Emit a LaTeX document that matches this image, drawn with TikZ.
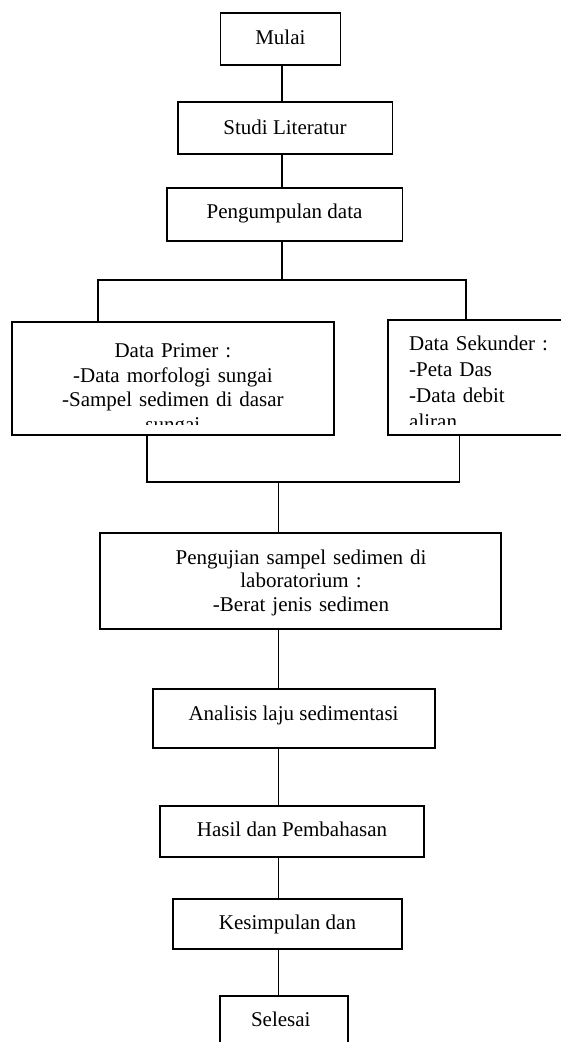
\documentclass[tikz,border=0pt]{standalone}
\usepackage{fontspec}
\setmainfont{Liberation Serif}
\begin{document}
\begin{tikzpicture}[x=1pt,y=-1pt,
  box/.style={draw=black, line width=1.8pt, rectangle, inner sep=0pt},
  txt/.style={inner sep=0pt, anchor=base, font=\fontsize{21}{25}\selectfont},
  link/.style={draw=black, line width=1.7pt},
]
\useasboundingbox (0,0) rectangle (560,1042);

% boxes
\node[box, minimum width=120pt,   minimum height=51.7pt]  (mulai)    at (280.4,39.15)  {};
\node[box, minimum width=214.3pt, minimum height=52pt]    (studi)    at (285.35,128.3) {};
\node[box, minimum width=235.7pt, minimum height=53.3pt]  (kumpul)   at (284.65,214.35) {};
\node[box, minimum width=322.1pt, minimum height=113.3pt] (primer)   at (172.85,378.35) {};
\node[box, minimum width=202.4pt, minimum height=115pt]   (sekunder) at (488.8,377.5) {};
\node[box, minimum width=401pt,   minimum height=96.5pt]  (uji)      at (300.4,580.9) {};
\node[box, minimum width=281.7pt, minimum height=59pt]    (analisis) at (294.1,718.8) {};
\node[box, minimum width=263.9pt, minimum height=51.3pt]  (hasil)    at (291.95,831.35) {};
\node[box, minimum width=229.2pt, minimum height=50pt]    (kesim)    at (287.5,923.7) {};
\node[box, minimum width=128.2pt, minimum height=84pt]    (selesai)  at (283.9,1038) {};

% texts
\node[txt] (tmulai)    at (280.4,44.3)  {Mulai};
\node[txt] (tstudi)    at (285,134)     {Studi Literatur};
\node[txt] (tkumpul)   at (284.6,218.3) {Pengumpulan data};
\node[txt] (tanalisis) at (293.5,720)   {Analisis laju sedimentasi};
\node[txt] (thasil)    at (292,836.7)   {Hasil dan Pembahasan};
\node[txt] (tkesim)    at (287.5,929)   {Kesimpulan dan};
\node[txt] (tselesai)  at (280.8,1026.7){Selesai};

\begin{scope}
  \clip (primer.north west) rectangle ([yshift=11pt]primer.south east);
  \node[txt, text width=322pt, align=center, font=\fontsize{21}{24.7}\selectfont] (tprimer) at (172.9,357.3)
    {Data Primer :\\-Data morfologi sungai\\-Sampel sedimen di dasar\\sungai};
\end{scope}
\begin{scope}
  \clip (sekunder.north west) rectangle ([yshift=11.5pt]sekunder.south east);
  \node[txt, anchor=base west, text width=170pt, align=left, font=\fontsize{21}{25.8}\selectfont] (tsekunder) at (409,350.7)
    {Data Sekunder :\\-Peta Das\\-Data debit\\aliran};
\end{scope}
\node[txt, text width=400pt, align=center, font=\fontsize{21}{23.8}\selectfont] (tuji) at (301,564)
  {Pengujian sampel sedimen di\\laboratorium :\\-Berat jenis sedimen};

% connector axes
\coordinate (ax1) at (282.1,0);
\coordinate (ax2) at (278.6,0);
\coordinate (split)  at (282.1,280);
\coordinate (splitL) at (98.2,280);
\coordinate (splitR) at (466.1,280);
\coordinate (mergeL) at (147.1,482.3);
\coordinate (mergeR) at (459.6,482.3);
\coordinate (merge)  at (278.6,482.3);

\draw[link] (mulai.south -| ax1) -- (studi.north -| ax1);
\draw[link] (studi.south -| ax1) -- (kumpul.north -| ax1);
\draw[link] (kumpul.south -| ax1) -- (split);
\draw[link] (primer.north -| splitL) -- (splitL) -- (splitR) -- (sekunder.north -| splitR);
\draw[link] (primer.south -| mergeL) -- (mergeL) -- (mergeR) -- (sekunder.south -| mergeR);
\draw[link] (merge) -- (uji.north -| merge);
\draw[link] (uji.south -| ax2) -- (analisis.north -| ax2);
\draw[link] (analisis.south -| ax2) -- (hasil.north -| ax2);
\draw[link] (hasil.south -| ax2) -- (kesim.north -| ax2);
\draw[link] (kesim.south -| ax2) -- (selesai.north -| ax2);
\end{tikzpicture}
\end{document}
